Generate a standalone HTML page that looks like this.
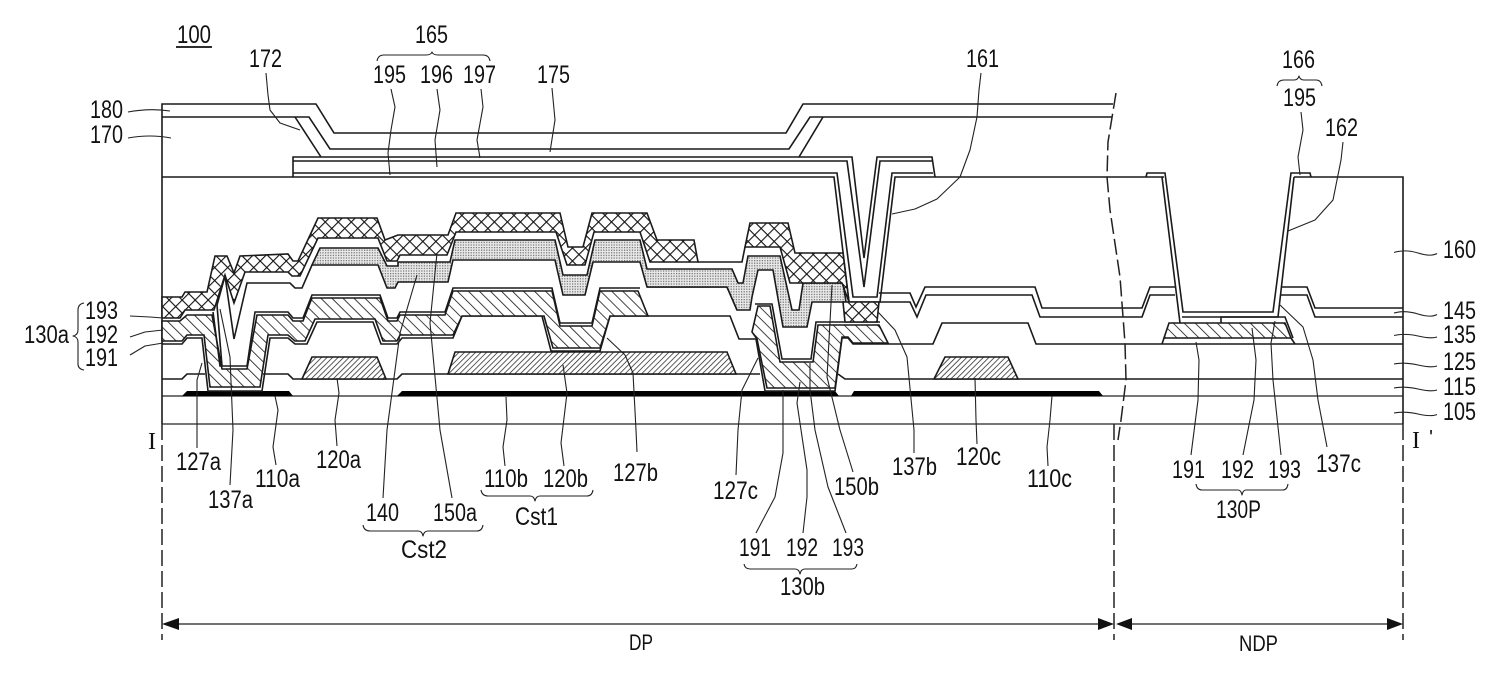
<!DOCTYPE html>
<html><head><meta charset="utf-8"><style>
html,body{margin:0;padding:0;background:#fff;width:1500px;height:675px;overflow:hidden}
svg{display:block}
text{font-family:"Liberation Sans","Noto Sans CJK JP",sans-serif;font-size:25px;fill:#111}
.m{fill:none;stroke:#1a1a1a;stroke-width:1.6;stroke-linejoin:miter}
.l{fill:none;stroke:#222;stroke-width:1.1;stroke-linejoin:round}
.d{fill:none;stroke:#222;stroke-width:1.5;stroke-dasharray:16 5}
</style></head><body>
<svg width="1500" height="675" viewBox="0 0 1500 675" xmlns="http://www.w3.org/2000/svg">
<defs>
<pattern id="h" width="7.8" height="7.8" patternUnits="userSpaceOnUse" patternTransform="rotate(-45)"><rect width="7.8" height="7.8" fill="#fff"/><line x1="0" y1="0" x2="0" y2="7.8" stroke="#222" stroke-width="1.7"/></pattern>
<pattern id="g" width="3.9" height="3.9" patternUnits="userSpaceOnUse" patternTransform="rotate(45)"><rect width="3.9" height="3.9" fill="#fff"/><line x1="0" y1="0" x2="0" y2="3.9" stroke="#222" stroke-width="1.5"/></pattern>
<pattern id="c" width="9.2" height="9.2" patternUnits="userSpaceOnUse" patternTransform="rotate(45)"><rect width="9.2" height="9.2" fill="#fff"/><line x1="0" y1="0" x2="0" y2="9.2" stroke="#111" stroke-width="2.2"/><line x1="0" y1="0" x2="9.2" y2="0" stroke="#111" stroke-width="2.2"/></pattern>
<pattern id="p" width="2.6" height="2.6" patternUnits="userSpaceOnUse"><rect width="2.6" height="2.6" fill="#e8e8e8"/><rect width="1.2" height="1.2" fill="#707070"/></pattern>
</defs>
<rect width="1500" height="675" fill="#fff"/>

<!-- frame and upper layers -->
<path class="m" d="M162 424V104H316L334 133H786L803 104H1113"/>
<path class="m" d="M162 117H309L330 149H789L810 117H1112"/>
<path class="m" d="M295 117L321 157M823 117L799 157"/>
<path class="m" d="M162 177H834L849 302H880L895 177H1161M1164 177H1146L1147 173H1165L1183 312H1273L1291 173H1310L1311 177H1294H1403V424"/>
<path class="m" d="M293 177V157H852L864 258L877 157H932L935 177"/>
<path class="m" d="M293 161H847L864 287L880 161H932"/>
<path class="m" d="M293 173H837L853 297H877L892 173H933"/>
<path class="m" d="M1162 177L1180 323M1294 177L1278 317H1182"/>

<!-- base -->
<path class="m" d="M162 396H1403M162 424H1403" stroke-opacity=".8"/>
<path fill="#000" d="M182 396L187 391H289L293 396ZM397 396L402 391H835L839 396ZM851 396L854 391H1099L1103 396Z"/>

<!-- 115 line -->
<path class="m" d="M162 379H182L187 374H205M263 374H288L293 379H397L402 374H760M838 374L845 379H1403"/>
<!-- gates -->
<path class="m" style="fill:url(#g)" d="M302 379L312 357H377L386 379Z"/>
<path class="m" style="fill:url(#g)" d="M448 374L455 352H727L736 374Z"/>
<path class="m" style="fill:url(#g)" d="M934 379L945 357H1008L1018 379Z"/>

<!-- 125 line -->
<path class="m" d="M162 344H182L187 338H202L208 391H262L270 338H288L295 344H307L317 322H373L381 344H397L402 338H453L462 316H542L551 351H600L610 316H730L739 339H756L765 391H835L842 338H848L853 344H933L942 323H1028L1036 344H1403"/>
<!-- hatch -->
<path class="m" style="fill:url(#h)" d="M162 321H180L187 315H212L222 369H247L257 315H288L293 321H303L312 298H380L388 321H397L400 315H445L453 291H552L560 326H592L600 291H638L648 316H610L600 348H553L544 316H462L453 335H400L397 341H383L375 319H315L305 341H295L288 335H268L260 387H210L204 335H187L182 341H162Z"/>
<path class="m" d="M213 312L220 366H247L255 312H288L293 318H303L312 295H380L388 318H397L400 312H445L453 288H552L560 323H592L600 288H640"/>
<path class="m" style="fill:url(#h)" d="M758 306H770L780 362H813L818 325H879L888 343H853L848 337H842L835 388H767L757 339L752 332Z"/>
<path class="m" d="M755 304H772L782 359H811L816 322H880"/>

<!-- 135 line -->
<path class="m" d="M217 305L225 276L234 339L247 283H290L295 288H302L312 265"/>
<path class="m" d="M217 305L222 366"/>
<path class="m" d="M398 282H395L387 288"/>
<path class="m" d="M647 287H727L737 310"/>

<!-- dotted -->
<path class="m" style="fill:url(#p)" d="M312 265L320 248H378L387 266H398V262L450 262L455 240H555L563 275H587L595 240H640L647 269H732L738 283H743L748 256H780L792 310H799L803 283H843L846 302H812L807 327H783L773 270H758L752 297L750 310H737L727 287H647L640 262H593L585 295H563L555 260H453L448 282H398L395 288H387L378 265Z"/>

<!-- cross hatch -->
<path class="m" style="fill:url(#c)" d="M162 297H182L185 292H207L215 256H227L234 273L240 256L288 254L293 261H298L318 218H377L385 240L398 235H448L456 213H560L568 247H583L592 213H647L657 240H694L698 262H650L640 232H594L585 265H567L556 232H456L447 255H400L397 261H387L378 238H318L300 276H292L288 272H245L234 303L225 275L214 310H185L180 318H162Z"/>
<path class="m" style="fill:url(#c)" d="M750 223H788L795 253H843L849 302L842 283H790L780 247H745Z"/>
<path class="m" style="fill:url(#c)" d="M843 302H879L877 322H845Z"/>
<path class="m" d="M698 262H742L745 247"/>

<!-- 145 lines -->
<path class="m" d="M879 293H910L916 307L925 287H1035L1042 308H1142L1150 287H1175M1282 287H1307L1315 308H1403"/>
<path class="m" d="M880 302H910L917 317L926 295H1032L1040 317H1142L1150 295H1175M1280 295H1307L1315 317H1403"/>

<!-- 130P -->
<path class="m" style="fill:url(#h)" d="M1169 323H1285L1291 338H1164Z"/>
<path class="m" d="M1164 338L1162 344M1291 338L1295 344M1221 323V317H1285L1293 338"/>

<!-- dashed and breaks -->
<path class="d" d="M162 424V640M1403 424V640M1114 424V640"/>
<path class="d" d="M1116 93L1108 142L1107 177L1110 210L1120 277L1125 343L1126 380L1121 420L1118 440"/>

<!-- dimension -->
<path stroke="#444" stroke-width="1.6" fill="none" d="M178 624H1098M1132 624H1388"/>
<path fill="#111" d="M162 624L179 618V630ZM1114 624L1098 618V630ZM1116 624L1132 618V630ZM1403 624L1387 618V630Z"/>

<!-- leaders -->
<path class="l" d="M128 112Q150 108 170 111M128 138Q150 134 171 138"/>
<path class="l" d="M266 73L268 95L270 110L280 123L300 130"/>
<path class="l" d="M391 89L395 107L391 130L388 153L390 175M437 89L440 110L435 140L437 167M481 89L483 107L477 140L480 158M552 88L555 120L550 152"/>
<path class="l" d="M981 73L979 90L977 117L970 150L960 177L937 199L915 209L892 214"/>
<path class="l" d="M1343 142L1341 160L1333 200L1315 220L1288 231M1301 112L1303 130L1298 157L1300 175"/>
<path class="l" d="M1394 252.500Q1405 249 1418 253T1437 253.500M1394 313Q1405 310 1418 314T1437 314.500M1394 335.500Q1405 333 1418 336T1437 337M1394 364Q1405 362 1418 365T1437 366M1394 388Q1405 386 1418 389T1437 390M1394 413Q1405 411 1418 414T1437 414.500"/>
<path class="l" d="M130 316L150 317L163 318M130 337L145 332L163 330M130 355L145 346L163 343"/>
<path class="l" d="M202 363L197 380L197 448M220 309L230 357L233 430L230 485M275 396L278 410L273 447L276 465M337 378L339 393L335 420L337 446"/>
<path class="l" d="M417 275L400 333L387 430L383 498M437 253L430 323L440 430L452 498M506 397L507 420L503 447L505 466M563 365L567 393L561 443L564 466"/>
<path class="l" d="M607 338L625 355L633 373L636 430L637 452M758 358L742 390L738 430L736 475M783 390V453L775 497L756 533M800 382L797 403L807 470L807 497L803 533M810 363V390L815 430L828 487L846 533M832 285L827 377L840 430L853 472"/>
<path class="l" d="M878 312L895 330L907 357L914 430V453M975 378L976 420L977 444M1052 396L1050 420L1047 447L1048 466"/>
<path class="l" d="M1196 342L1199 360L1198 400L1191 455M1252 328L1256 360L1254 400L1243 455M1275 321L1271 343L1273 380L1281 455M1280 305L1303 327L1313 360L1318 400L1327 447"/>

<!-- braces -->
<path class="l" d="M377 61Q378 55 384 55H426Q431 55 432 52Q433 55 438 55H483Q489 55 490 61"/>
<path class="l" d="M1277 86Q1278 80 1284 80H1294Q1298 80 1299 76Q1300 80 1304 80H1316Q1321 80 1322 86"/>
<path class="l" d="M481 490Q482 496 488 496H530Q534 496 535 501Q536 496 540 496H587Q592 496 593 490"/>
<path class="l" d="M363 525Q364 531 370 531H418Q422 531 423 536Q424 531 428 531H477Q482 531 483 525"/>
<path class="l" d="M744 564Q745 569 750 569H795Q799 569 800 574Q801 569 805 569H852Q856 569 857 564"/>
<path class="l" d="M1196 484Q1197 490 1202 490H1238Q1241 490 1242 495Q1243 490 1246 490H1283Q1287 490 1288 484"/>
<path class="l" d="M84 303Q78 304 78 310V330Q78 335 73 336Q78 337 78 342V364Q78 369 84 370"/>
<path stroke="#111" stroke-width="1.8" d="M176 47H212"/>

<!-- labels -->
<text x="177" y="43" textLength="34" lengthAdjust="spacingAndGlyphs">100</text>
<text x="415" y="43" textLength="33" lengthAdjust="spacingAndGlyphs">165</text>
<text x="373" y="83" textLength="33" lengthAdjust="spacingAndGlyphs">195</text>
<text x="420" y="83" textLength="33" lengthAdjust="spacingAndGlyphs">196</text>
<text x="463" y="83" textLength="33" lengthAdjust="spacingAndGlyphs">197</text>
<text x="537" y="83" textLength="33" lengthAdjust="spacingAndGlyphs">175</text>
<text x="249" y="67" textLength="33" lengthAdjust="spacingAndGlyphs">172</text>
<text x="966" y="67" textLength="33" lengthAdjust="spacingAndGlyphs">161</text>
<text x="1282" y="68" textLength="33" lengthAdjust="spacingAndGlyphs">166</text>
<text x="1283" y="106" textLength="33" lengthAdjust="spacingAndGlyphs">195</text>
<text x="1325" y="136" textLength="33" lengthAdjust="spacingAndGlyphs">162</text>
<text x="90" y="118" textLength="33" lengthAdjust="spacingAndGlyphs">180</text>
<text x="90" y="143" textLength="33" lengthAdjust="spacingAndGlyphs">170</text>
<text x="1443" y="258" textLength="33" lengthAdjust="spacingAndGlyphs">160</text>
<text x="1443" y="319" textLength="33" lengthAdjust="spacingAndGlyphs">145</text>
<text x="1443" y="343" textLength="33" lengthAdjust="spacingAndGlyphs">135</text>
<text x="1443" y="370" textLength="33" lengthAdjust="spacingAndGlyphs">125</text>
<text x="1443" y="395" textLength="33" lengthAdjust="spacingAndGlyphs">115</text>
<text x="1443" y="420" textLength="33" lengthAdjust="spacingAndGlyphs">105</text>
<text x="85" y="319" textLength="33" lengthAdjust="spacingAndGlyphs">193</text>
<text x="85" y="343" textLength="33" lengthAdjust="spacingAndGlyphs">192</text>
<text x="85" y="366" textLength="33" lengthAdjust="spacingAndGlyphs">191</text>
<text x="24" y="343" textLength="45" lengthAdjust="spacingAndGlyphs">130a</text>
<text x="176" y="470" textLength="45" lengthAdjust="spacingAndGlyphs">127a</text>
<text x="208" y="508" textLength="45" lengthAdjust="spacingAndGlyphs">137a</text>
<text x="255" y="487" textLength="45" lengthAdjust="spacingAndGlyphs">110a</text>
<text x="316" y="468" textLength="45" lengthAdjust="spacingAndGlyphs">120a</text>
<text x="366" y="521" textLength="33" lengthAdjust="spacingAndGlyphs">140</text>
<text x="433" y="521" textLength="44" lengthAdjust="spacingAndGlyphs">150a</text>
<text x="484" y="487" textLength="44" lengthAdjust="spacingAndGlyphs">110b</text>
<text x="543" y="487" textLength="45" lengthAdjust="spacingAndGlyphs">120b</text>
<text x="515" y="525" textLength="43" lengthAdjust="spacingAndGlyphs">Cst1</text>
<text x="401" y="558" textLength="46" lengthAdjust="spacingAndGlyphs">Cst2</text>
<text x="613" y="481" textLength="45" lengthAdjust="spacingAndGlyphs">127b</text>
<text x="713" y="499" textLength="45" lengthAdjust="spacingAndGlyphs">127c</text>
<text x="834" y="495" textLength="45" lengthAdjust="spacingAndGlyphs">150b</text>
<text x="892" y="475" textLength="45" lengthAdjust="spacingAndGlyphs">137b</text>
<text x="956" y="465" textLength="45" lengthAdjust="spacingAndGlyphs">120c</text>
<text x="1027" y="487" textLength="45" lengthAdjust="spacingAndGlyphs">110c</text>
<text x="739" y="556" textLength="32" lengthAdjust="spacingAndGlyphs">191</text>
<text x="786" y="556" textLength="32" lengthAdjust="spacingAndGlyphs">192</text>
<text x="832" y="556" textLength="32" lengthAdjust="spacingAndGlyphs">193</text>
<text x="780" y="595" textLength="45" lengthAdjust="spacingAndGlyphs">130b</text>
<text x="1172" y="478" textLength="33" lengthAdjust="spacingAndGlyphs">191</text>
<text x="1221" y="478" textLength="33" lengthAdjust="spacingAndGlyphs">192</text>
<text x="1268" y="478" textLength="33" lengthAdjust="spacingAndGlyphs">193</text>
<text x="1316" y="472" textLength="45" lengthAdjust="spacingAndGlyphs">137c</text>
<text x="1216" y="518" textLength="45" lengthAdjust="spacingAndGlyphs">130P</text>
<text x="629" y="650" textLength="24" lengthAdjust="spacingAndGlyphs" style="font-size:22px">DP</text>
<text x="1239" y="651" textLength="39" lengthAdjust="spacingAndGlyphs" style="font-size:22px">NDP</text>
<text x="152" y="449" text-anchor="middle" style="font-family:'Liberation Serif',serif;font-size:24px">I</text>
<text x="1416" y="448" text-anchor="middle" style="font-family:'Liberation Serif',serif;font-size:24px">I</text>
<text x="1431" y="444" text-anchor="middle" style="font-size:20px">'</text>
</svg>
</body></html>
